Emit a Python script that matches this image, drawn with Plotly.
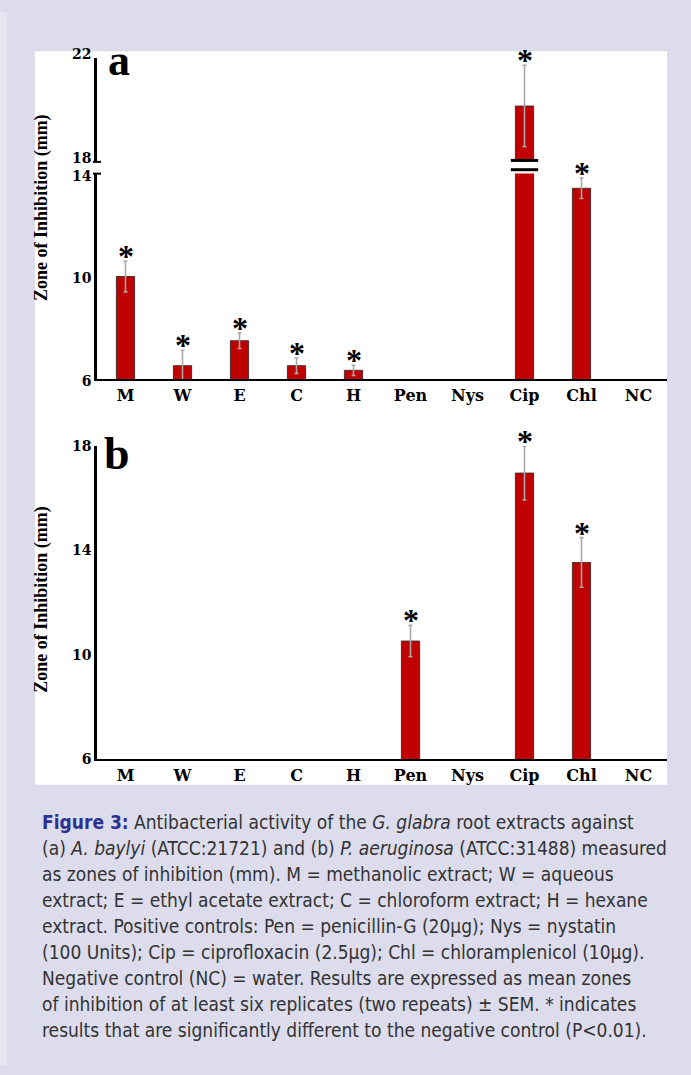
import plotly.graph_objects as go

W, H = 691, 1075

categories = ["M", "W", "E", "C", "H", "Pen", "Nys", "Cip", "Chl", "NC"]

# Panel a: A. baylyi
a_values = [10.0, 6.53, 7.5, 6.53, 6.35, None, None, 20.15, 13.43, None]
a_sem = [0.6, 0.6, 0.3, 0.3, 0.2, None, None, 1.57, 0.4, None]
a_sig = [True, True, True, True, True, False, False, True, True, False]

# Panel b: P. aeruginosa
b_values = [None, None, None, None, None, 10.53, None, 16.96, 13.54, None]
b_sem = [None, None, None, None, None, 0.6, None, 1.03, 0.95, None]
b_sig = [False, False, False, False, False, True, False, True, True, False]

a_low_ticks = [6, 10, 14]
a_high_ticks = [18, 22]
b_ticks = [6, 10, 14, 18]

BG = "#dcdcec"
BAR = "#c00000"
SERIF = "Liberation Serif"
YTICKFONT = dict(family="DejaVu Serif", size=14, color="black", weight="bold")
XTICKFONT = dict(family="DejaVu Serif", size=16, color="black", weight="bold")
CAPFONT = "DejaVu Sans Condensed, Liberation Sans Narrow, Roboto, sans-serif"


def px(x):
    return x / W


def py(y):
    return 1 - y / H


xdom = [px(97), px(667)]

fig = go.Figure()


def bars(vals, sems, xa, ya):
    fig.add_trace(go.Bar(
        x=categories, y=vals, xaxis=xa, yaxis=ya,
        marker=dict(color=BAR, line=dict(color="#4a3030", width=1)),
        width=0.32,
        error_y=dict(type="data", array=[s if s is not None else 0 for s in sems],
                     visible=True, color="#a8a8a8", thickness=1.6, width=2),
        showlegend=False, hoverinfo="skip",
    ))


bars(a_values, a_sem, "x", "y")
bars(a_values, a_sem, "x2", "y2")
bars(b_values, b_sem, "x3", "y3")

yax = dict(showgrid=False, zeroline=False, showline=True, linecolor="black",
           ticks="", tickfont=YTICKFONT, fixedrange=True, linewidth=2.5)
xax = dict(showgrid=False, zeroline=False, showline=True, linecolor="black",
           ticks="", tickfont=XTICKFONT, fixedrange=True, linewidth=2,
           range=[-0.5, 9.5], domain=xdom)

fig.update_layout(
    width=W, height=H,
    margin=dict(l=0, r=0, t=0, b=0),
    paper_bgcolor=BG, plot_bgcolor="white",
    xaxis=dict(anchor="y", **xax),
    yaxis=dict(domain=[py(375), py(165)], anchor="x", range=[6, 14],
               tickvals=a_low_ticks, ticklabelshift=2, **yax),
    xaxis2=dict(domain=xdom, anchor="y2", range=[-0.5, 9.5], visible=False),
    yaxis2=dict(domain=[py(153), py(47)], anchor="x2", range=[18, 22],
                tickvals=a_high_ticks, ticklabelshift=-4, **yax),
    xaxis3=dict(anchor="y3", **xax),
    yaxis3=dict(domain=[py(763), py(443)], anchor="x3", range=[6, 18],
                tickvals=b_ticks, **yax),
)

shapes = []
# white card behind the charts
shapes.append(dict(type="rect", xref="paper", yref="paper", x0=px(35), x1=px(667),
                   y0=py(789), y1=py(40), fillcolor="white", line=dict(width=0), layer="below"))
# lighter strip at page edge
shapes.append(dict(type="rect", xref="paper", yref="paper", x0=0, x1=px(7),
                   y0=0, y1=1, fillcolor="#e6e6f2", line=dict(width=0), layer="below"))
# axis break marks on the Cip bar
ci = categories.index("Cip")
for yy in (151.5, 161):
    shapes.append(dict(type="line", xref="x", yref="paper", x0=ci - 0.24, x1=ci + 0.24,
                       y0=py(yy), y1=py(yy), line=dict(color="black", width=3)))
# caps at axis break ends
for yy in (153, 165):
    shapes.append(dict(type="line", xref="paper", yref="paper", x0=px(93), x1=px(101),
                       y0=py(yy), y1=py(yy), line=dict(color="black", width=2)))
fig.update_layout(shapes=shapes)

ann = []


def stars(vals, sems, sig, pick):
    for i, (v, s, g) in enumerate(zip(vals, sems, sig)):
        if not g or v is None:
            continue
        top = v + (s or 0)
        xa, ya = pick(top)
        ann.append(dict(x=categories[i], y=top, xref=xa, yref=ya, text="*",
                        showarrow=False, yanchor="bottom", yshift=-15,
                        font=dict(family=SERIF, size=32, color="black", weight="bold")))


stars(a_values, a_sem, a_sig, lambda t: ("x2", "y2") if t > 14 else ("x", "y"))
stars(b_values, b_sem, b_sig, lambda t: ("x3", "y3"))

# panel letters
ann.append(dict(x=px(106), y=py(22), xref="paper", yref="paper", text="<b>a</b>",
                showarrow=False, xanchor="left", yanchor="top",
                font=dict(family=SERIF, size=44, color="black")))
ann.append(dict(x=px(102), y=py(423), xref="paper", yref="paper", text="<b>b</b>",
                showarrow=False, xanchor="left", yanchor="top",
                font=dict(family=SERIF, size=46, color="black")))

# y axis titles
for yc in (200, 600):
    ann.append(dict(x=px(42), y=py(yc), xref="paper", yref="paper",
                    xanchor="center", yanchor="middle",
                    text="<b>Zone of Inhibition (mm)</b>", textangle=-90, showarrow=False,
                    font=dict(family=SERIF, size=18, color="black")))

# caption
caption_lines = [
    "<span style='color:#2e3192'><b>Figure 3:</b></span> Antibacterial activity of the <i>G. glabra</i> root extracts against",
    "(a) <i>A. baylyi</i> (ATCC:21721) and (b) <i>P. aeruginosa</i> (ATCC:31488) measured",
    "as zones of inhibition (mm). M = methanolic extract; W = aqueous",
    "extract; E = ethyl acetate extract; C = chloroform extract; H = hexane",
    "extract. Positive controls: Pen = penicillin-G (20µg); Nys = nystatin",
    "(100 Units); Cip = ciprofloxacin (2.5µg); Chl = chloramplenicol (10µg).",
    "Negative control (NC) = water. Results are expressed as mean zones",
    "of inhibition of at least six replicates (two repeats) ± SEM. * indicates",
    "results that are significantly different to the negative control (P<0.01).",
]
for k, line in enumerate(caption_lines):
    ann.append(dict(x=px(40), y=py(827 + 26.5 * k), xref="paper", yref="paper",
                    text=line, showarrow=False, xanchor="left", yanchor="middle",
                    font=dict(family=CAPFONT, size=19, color="#333333")))

fig.update_layout(annotations=ann)

fig.write_html("out.html", config={"displayModeBar": False},
               post_script="document.body.style.margin='0px';document.body.style.overflow='hidden';")
